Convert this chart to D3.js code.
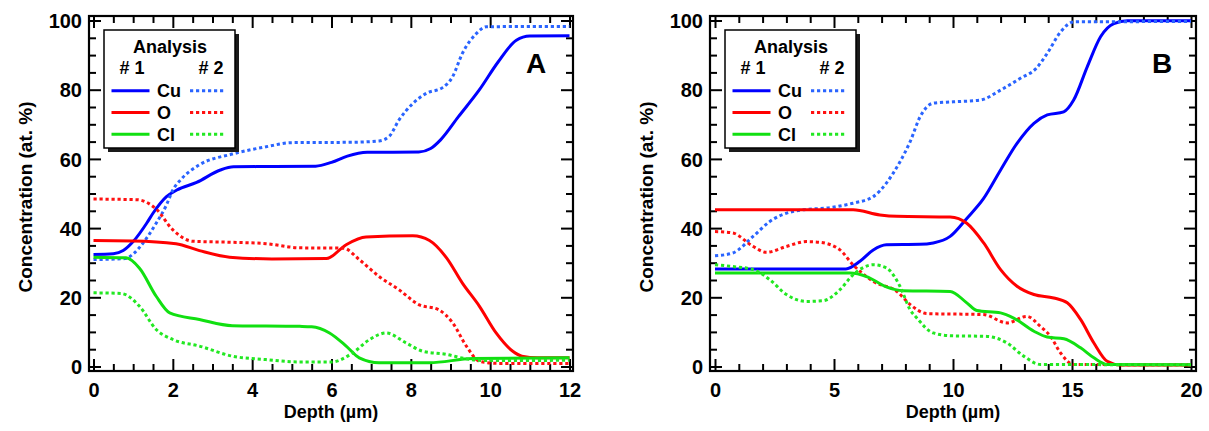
<!DOCTYPE html>
<html><head><meta charset="utf-8">
<script src="https://cdn.jsdelivr.net/npm/d3@7"></script>
<style>
body{margin:0;background:#fff;}
svg text{font-family:"Liberation Sans",Arial,sans-serif;font-weight:bold;fill:#000;}
</style></head>
<body><svg id="c" width="1209" height="431"></svg>
<script>
// ---------- data (depth µm, at.%) ----------
const panelLetters = ["A", "B"];
const xDomainA = [0, 12], xDomainB = [0, 20];
const yTicks = [0, 20, 40, 60, 80, 100];
const xTicksA = [0, 2, 4, 6, 8, 10, 12];
const xTicksB = [0, 5, 10, 15, 20];
const elements = ["Cu", "O", "Cl"];
const analyses = ["# 1", "# 2"];

// Panel A
const aCu1 = [[0,32.4],[0.5,32.6],[0.75,33.5],[1.0,36.1],[1.34,41.4],[1.5,44.3],[1.84,49.1],[2.1,51],[2.6,53.2],[3.2,56.8],[3.53,57.7],[4.5,57.8],[5.6,57.9],[6.0,59],[6.4,60.8],[6.9,61.9],[8.2,62.0],[8.5,63],[8.75,65.5],[9.2,72.2],[9.73,80],[10.2,88],[10.66,94.3],[11,95.5],[12,95.6]];
const aCu2 = [[0,30.9],[0.8,31.2],[1.0,32.5],[1.25,35.7],[1.58,41.4],[1.84,46.7],[2.0,51],[2.2,54],[2.67,58.3],[3.5,61.4],[4.35,63.5],[5.0,64.7],[6.5,64.8],[7.2,65.2],[7.46,66.6],[7.7,71.2],[8.05,76],[8.4,79],[8.8,80.6],[9.05,83.7],[9.3,90.5],[9.65,96.2],[9.9,98.2],[12,98.3]];
const aO1 = [[0,36.4],[1,36.3],[2.08,35.5],[2.67,33.5],[3.43,31.6],[4.5,31.1],[5.87,31.2],[6.37,35.2],[6.87,37.4],[8.05,37.8],[8.47,36.4],[8.9,31.4],[9.3,24.1],[9.73,17.4],[10.15,9.7],[10.57,4.4],[10.8,3],[11.2,2.5],[12,2.5]];
const aO2 = [[0,48.4],[1.1,48.2],[1.58,45.5],[2.0,39.5],[2.5,36.2],[3.5,35.9],[4.35,35.5],[5.2,34.3],[6.3,34.2],[6.7,30.9],[7.2,26],[7.7,22.2],[8.2,17.9],[8.7,16.4],[9.05,12.7],[9.4,5.9],[9.73,1.5],[10.2,0.9],[12,0.9]];
const aCl1 = [[0,31.6],[0.82,31.4],[1.16,28.4],[1.58,20.3],[1.92,15.5],[2.67,13.6],[3.5,11.8],[5.2,11.6],[5.5,11.5],[5.95,9.7],[6.37,5.9],[6.7,2.5],[7.2,1.1],[8.47,1.1],[9.56,2.3],[12,2.5]];
const aCl2 = [[0,21.3],[0.7,21.1],[1.16,17.4],[1.58,10.7],[2,7.8],[2.67,5.9],[3.5,3],[4.35,2],[5.2,1.3],[6.0,1.3],[6.53,3.9],[6.96,7.8],[7.38,9.7],[7.88,6.8],[8.3,4.4],[8.9,3.5],[9.4,2.2],[9.9,1.7],[12,1.8]];

// Panel B
const bCu1 = [[0,28.2],[5.5,28.2],[6.09,30.4],[6.65,33.7],[7.2,35.2],[8.6,35.3],[9.17,35.7],[9.88,37.6],[10.58,42.8],[11.28,48.5],[12,56.8],[12.69,64.5],[13.4,70.3],[13.96,72.7],[14.65,73.6],[15.07,77],[15.64,86.6],[16.2,95.3],[16.76,99.1],[17.33,99.9],[20,99.9]];
const bCu2 = [[0,32],[0.74,32.8],[1.6,37.6],[2.3,41.9],[3.27,44.8],[5.1,46.2],[5.8,47.2],[6.65,49.1],[7.2,53],[7.49,55.9],[7.8,59.5],[8.2,65],[8.62,72.2],[9.17,76.1],[10.0,76.5],[11.15,77],[12,79.9],[12.83,83.3],[13.5,86.2],[13.96,90.5],[14.52,96.7],[15.07,99.6],[20,99.7]];
const bO1 = [[0,45.3],[5.8,45.3],[6.93,43.8],[7.64,43.4],[9.88,43.2],[10.58,41.4],[11.29,35.7],[12,28],[12.69,23.2],[13.4,20.8],[14.23,19.8],[14.8,18.4],[15.36,13.6],[15.92,6.8],[16.48,1.5],[17.05,0.4],[20,0.4]];
const bO2 = [[0,39],[0.74,38.6],[1.6,34.7],[2.16,33],[3.0,34.7],[3.84,36.1],[4.4,35.9],[5.25,33.7],[5.8,29.4],[6.65,24.6],[7.64,21.7],[8.2,17.9],[8.9,15.3],[11.28,15],[12.27,12.6],[13.1,14.5],[13.67,11.6],[14.1,8.7],[14.52,3.9],[15.07,0.6],[20,0.5]];
const bCl1 = [[0,27],[5.67,27],[6.37,26],[7.2,23],[7.9,21.9],[9.88,21.7],[10.58,18.4],[11.0,16.2],[12,15.5],[12.55,14.0],[13.4,10.2],[13.96,8.5],[14.66,8],[15.36,5.4],[15.92,2.5],[16.48,0.6],[20,0.5]];
const bCl2 = [[0,29.4],[0.74,28.9],[1.6,28],[2.3,25.1],[3.0,20.8],[3.84,18.8],[4.54,19.0],[5.25,22.2],[5.8,26.5],[6.65,29.4],[7.2,28.5],[7.77,23.2],[8.2,16.4],[8.48,14],[9.17,9.7],[9.88,8.9],[11.43,8.7],[12.27,6.8],[12.97,3],[13.67,0.6],[20,0.5]];

// ---------- styling ----------
const colorSolid = {Cu:"#0000ff", O:"#ff0000", Cl:"#11e011"};
const colorDot = {Cu:"#2a64ff", O:"#ff1010", Cl:"#22e822"};

const svg = d3.select("#c");

function drawPanel(cfg){
  const {frameL, frameR, frameT, frameB, x0, x1, domain, xTicks, xMinorStep, series, letter, letterX} = cfg;
  const g = svg.append("g");
  const x = d3.scaleLinear().domain(domain).range([x0, x1]);
  const y = d3.scaleLinear().domain([0,100]).range([366.5, 20.5]);
  const xMinor = d3.range(domain[0], domain[1] + 1e-9, xMinorStep).filter(v => !xTicks.some(t => Math.abs(t - v) < 1e-9));
  const yMinor = d3.range(0, 100.001, 5).filter(v => v % 20 !== 0);

  const mk = (axisFn, scale, ticks, size, labels, transform) => {
    const a = axisFn(scale).tickValues(ticks).tickSize(size).tickPadding(0);
    if(!labels) a.tickFormat("");
    const ag = g.append("g").attr("transform", transform).call(a);
    ag.select(".domain").remove();
    ag.selectAll("line").attr("stroke","#000").attr("stroke-width",2);
    return ag;
  };
  const bx = mk(d3.axisBottom, x, xTicks, -12, true, `translate(0,${frameB})`);
  bx.selectAll("text").attr("y", 25.5).attr("dy", 0).style("font-size","20px");
  mk(d3.axisBottom, x, xMinor, -7, false, `translate(0,${frameB})`);
  mk(d3.axisTop, x, xTicks, -12, false, `translate(0,${frameT})`);
  mk(d3.axisTop, x, xMinor, -7, false, `translate(0,${frameT})`);
  const ly = mk(d3.axisLeft, y, yTicks, -12, true, `translate(${frameL},0)`);
  ly.selectAll("text").attr("x", -7).attr("dy", "0.36em").style("font-size","20px");
  mk(d3.axisLeft, y, yMinor, -7, false, `translate(${frameL},0)`);
  mk(d3.axisRight, y, yTicks, -12, false, `translate(${frameR},0)`);
  mk(d3.axisRight, y, yMinor, -7, false, `translate(${frameR},0)`);
  g.selectAll(".tick text").attr("font-family", null).attr("font-size", null).attr("font-weight", "bold").attr("fill","#000");

  const line = d3.line().x(d => x(d[0])).y(d => y(d[1])).curve(d3.curveMonotoneX);
  series.forEach(s => {
    g.append("path").datum(s.data).attr("d", line)
      .attr("fill","none")
      .attr("stroke", s.dotted ? colorDot[s.el] : colorSolid[s.el])
      .attr("stroke-width", 3)
      .attr("stroke-dasharray", s.dotted ? "3.2,2.8" : null);
  });

  g.append("rect").attr("x", frameL).attr("y", frameT).attr("width", frameR-frameL).attr("height", frameB-frameT)
    .attr("fill","none").attr("stroke","#000").attr("stroke-width",2.2);

  g.append("text").attr("x", (frameL+frameR)/2).attr("y", 417.5).attr("text-anchor","middle").style("font-size","18px").text("Depth (µm)");
  g.append("text").attr("transform", `translate(${frameL-57},${197}) rotate(-90)`).attr("text-anchor","middle").style("font-size","19px").text("Concentration (at. %)");

  g.append("text").attr("x", letterX).attr("y", 73).attr("text-anchor","middle").style("font-size","28px").text(letter);

  const lx = frameL + 15, lt = 30, lw = 131, lh = 118;
  g.append("rect").attr("x", lx+4).attr("y", lt+4).attr("width", lw).attr("height", lh).attr("fill","#1a1a1a");
  g.append("rect").attr("x", lx).attr("y", lt).attr("width", lw).attr("height", lh).attr("fill","#fff").attr("stroke","#000").attr("stroke-width",1.5);
  g.append("text").attr("x", lx+66).attr("y", lt+23).attr("text-anchor","middle").style("font-size","18px").text("Analysis");
  g.append("text").attr("x", lx+28).attr("y", lt+44).attr("text-anchor","middle").style("font-size","18px").text(analyses[0]);
  g.append("text").attr("x", lx+107).attr("y", lt+44).attr("text-anchor","middle").style("font-size","18px").text(analyses[1]);
  elements.forEach((el, i) => {
    const yy = lt + 60.7 + i*21.8;
    g.append("line").attr("x1", lx+7.5).attr("x2", lx+45.5).attr("y1", yy).attr("y2", yy).attr("stroke", colorSolid[el]).attr("stroke-width",3);
    g.append("text").attr("x", lx+53).attr("y", yy+6.5).style("font-size","18px").text(el);
    g.append("line").attr("x1", lx+86).attr("x2", lx+121).attr("y1", yy).attr("y2", yy).attr("stroke", colorDot[el]).attr("stroke-width",3).attr("stroke-dasharray","3.2,2.8");
  });
}

drawPanel({frameL:89, frameR:573, frameT:16, frameB:371, x0:93.5, x1:569.5, domain:xDomainA, xTicks:xTicksA, xMinorStep:0.5,
  letter:panelLetters[0], letterX:536,
  series:[{el:"Cu",data:aCu1},{el:"Cu",data:aCu2,dotted:true},{el:"O",data:aO1},{el:"O",data:aO2,dotted:true},{el:"Cl",data:aCl1},{el:"Cl",data:aCl2,dotted:true}]});
drawPanel({frameL:710, frameR:1196, frameT:16, frameB:371, x0:715, x1:1191, domain:xDomainB, xTicks:xTicksB, xMinorStep:1,
  letter:panelLetters[1], letterX:1162,
  series:[{el:"Cu",data:bCu1},{el:"Cu",data:bCu2,dotted:true},{el:"O",data:bO1},{el:"O",data:bO2,dotted:true},{el:"Cl",data:bCl1},{el:"Cl",data:bCl2,dotted:true}]});
</script></body></html>
